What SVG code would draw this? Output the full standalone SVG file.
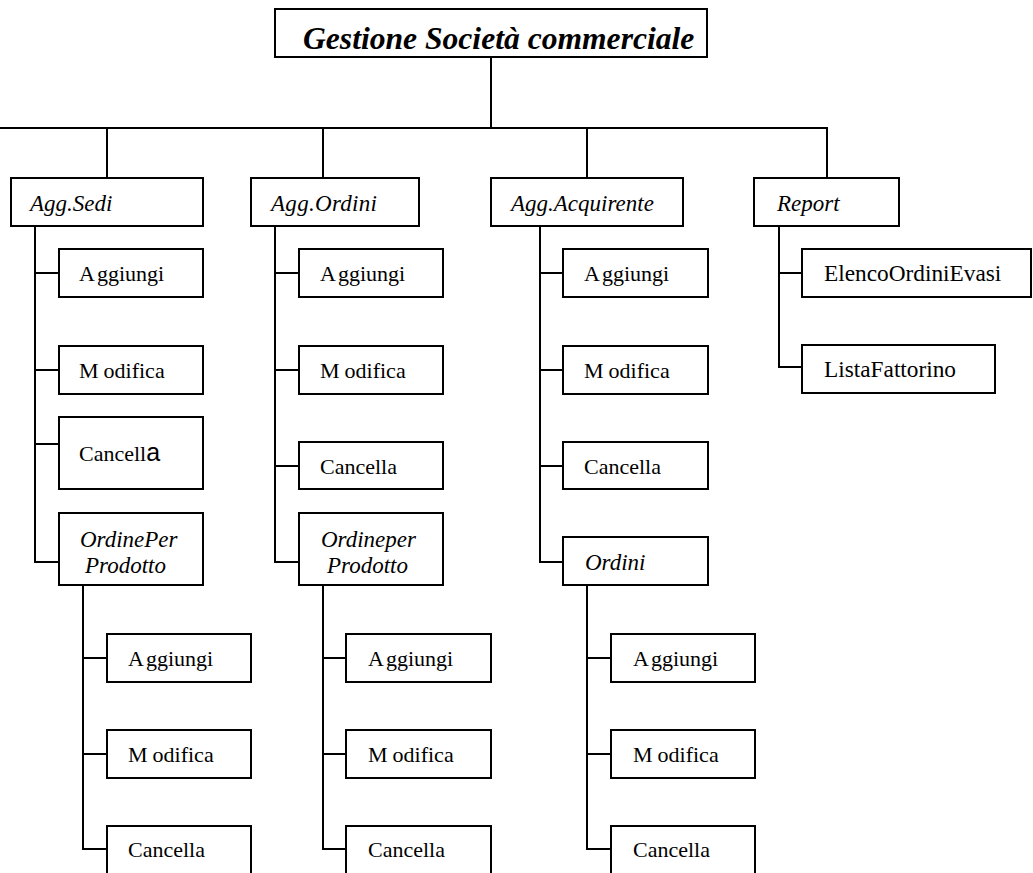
<svg xmlns="http://www.w3.org/2000/svg" width="1033" height="873" viewBox="0 0 1033 873">
<style>
rect{fill:#fff;stroke:#000;stroke-width:2}
#connectors line{stroke:#000;stroke-width:2}
text{font-family:'Liberation Serif','DejaVu Serif',serif;font-size:22px;fill:#000}
.it{font-style:italic;font-size:23px}
.big{font-size:23.3px}
.title{font-style:italic;font-weight:bold;font-size:31.6px}
</style>
<rect x="0" y="0" width="1033" height="873" style="fill:#fff;stroke:none"/>
<g id="connectors">
<line x1="491" y1="57" x2="491" y2="128"/>
<line x1="0" y1="128" x2="828" y2="128"/>
<line x1="107" y1="128" x2="107" y2="178"/>
<line x1="323" y1="128" x2="323" y2="178"/>
<line x1="587" y1="128" x2="587" y2="178"/>
<line x1="827" y1="128" x2="827" y2="178"/>
<line x1="35" y1="226" x2="35" y2="563"/>
<line x1="35" y1="273" x2="59" y2="273"/>
<line x1="35" y1="370" x2="59" y2="370"/>
<line x1="35" y1="444" x2="59" y2="444"/>
<line x1="35" y1="562" x2="59" y2="562"/>
<line x1="275" y1="226" x2="275" y2="563"/>
<line x1="275" y1="273" x2="299" y2="273"/>
<line x1="275" y1="370" x2="299" y2="370"/>
<line x1="275" y1="466" x2="299" y2="466"/>
<line x1="275" y1="562" x2="299" y2="562"/>
<line x1="540" y1="226" x2="540" y2="563"/>
<line x1="540" y1="273" x2="563" y2="273"/>
<line x1="540" y1="370" x2="563" y2="370"/>
<line x1="540" y1="466" x2="563" y2="466"/>
<line x1="540" y1="562" x2="563" y2="562"/>
<line x1="779" y1="226" x2="779" y2="368"/>
<line x1="779" y1="273" x2="802" y2="273"/>
<line x1="779" y1="367" x2="802" y2="367"/>
<line x1="83" y1="585" x2="83" y2="850"/>
<line x1="83" y1="658" x2="107" y2="658"/>
<line x1="83" y1="754" x2="107" y2="754"/>
<line x1="83" y1="849" x2="107" y2="849"/>
<line x1="323" y1="585" x2="323" y2="850"/>
<line x1="323" y1="658" x2="346" y2="658"/>
<line x1="323" y1="754" x2="346" y2="754"/>
<line x1="323" y1="849" x2="346" y2="849"/>
<line x1="587" y1="585" x2="587" y2="850"/>
<line x1="587" y1="658" x2="611" y2="658"/>
<line x1="587" y1="754" x2="611" y2="754"/>
<line x1="587" y1="849" x2="611" y2="849"/>
</g>
<g font-family="Liberation Serif">
<g id="root"><rect x="275" y="9" width="432" height="48"/><text class="title" x="303" y="49">Gestione Società commerciale</text></g>

<g id="agg-sedi"><rect x="11" y="178" width="192" height="48"/><text class="it" x="30" y="211">Agg.Sedi</text></g>
<g id="agg-ordini"><rect x="251" y="178" width="168" height="48"/><text class="it" x="271" y="211" letter-spacing="0.3">Agg.Ordini</text></g>
<g id="agg-acquirente"><rect x="491" y="178" width="192" height="48"/><text class="it" x="511" y="211">Agg.Acquirente</text></g>
<g id="report"><rect x="754" y="178" width="145" height="48"/><text class="it" x="777" y="211">Report</text></g>

<g id="sedi-aggiungi"><rect x="59" y="249" width="144" height="48"/><text x="79" y="281">A<tspan dx="2">ggiungi</tspan></text></g>
<g id="sedi-modifica"><rect x="59" y="346" width="144" height="48"/><text x="79" y="378">M<tspan dx="5">odifica</tspan></text></g>
<g id="sedi-cancella"><rect x="59" y="417" width="144" height="72"/><text x="79" y="461">Cancell<tspan style="font-family:'Liberation Sans',Arial,sans-serif;font-size:25px">a</tspan></text></g>
<g id="sedi-ordineperprodotto"><rect x="59" y="513" width="144" height="72"/><text class="it" x="80" y="547">OrdinePer</text><text class="it" x="85" y="573">Prodotto</text></g>

<g id="ordini-aggiungi"><rect x="299" y="249" width="144" height="48"/><text x="320" y="281">A<tspan dx="2">ggiungi</tspan></text></g>
<g id="ordini-modifica"><rect x="299" y="346" width="144" height="48"/><text x="320" y="378">M<tspan dx="5">odifica</tspan></text></g>
<g id="ordini-cancella"><rect x="299" y="442" width="144" height="47"/><text x="320" y="474">Cancella</text></g>
<g id="ordini-ordineperprodotto"><rect x="299" y="513" width="144" height="72"/><text class="it" x="321" y="547">Ordineper</text><text class="it" x="327" y="573">Prodotto</text></g>

<g id="acq-aggiungi"><rect x="563" y="249" width="145" height="48"/><text x="584" y="281">A<tspan dx="2">ggiungi</tspan></text></g>
<g id="acq-modifica"><rect x="563" y="346" width="145" height="48"/><text x="584" y="378">M<tspan dx="5">odifica</tspan></text></g>
<g id="acq-cancella"><rect x="563" y="442" width="145" height="47"/><text x="584" y="474">Cancella</text></g>
<g id="acq-ordini"><rect x="563" y="537" width="145" height="48"/><text class="it" x="585" y="570">Ordini</text></g>

<g id="report-elenco"><rect x="802" y="249" width="229" height="48"/><text class="big" x="824" y="281">ElencoOrdiniEvasi</text></g>
<g id="report-lista"><rect x="802" y="345" width="193" height="48"/><text class="big" x="824" y="377">ListaFattorino</text></g>

<g id="sedi-opp-aggiungi"><rect x="107" y="634" width="144" height="48"/><text x="128" y="666">A<tspan dx="2">ggiungi</tspan></text></g>
<g id="sedi-opp-modifica"><rect x="107" y="730" width="144" height="48"/><text x="128" y="762">M<tspan dx="5">odifica</tspan></text></g>
<g id="sedi-opp-cancella"><rect x="107" y="826" width="144" height="50"/><text x="128" y="857">Cancella</text></g>

<g id="ordini-opp-aggiungi"><rect x="346" y="634" width="145" height="48"/><text x="368" y="666">A<tspan dx="2">ggiungi</tspan></text></g>
<g id="ordini-opp-modifica"><rect x="346" y="730" width="145" height="48"/><text x="368" y="762">M<tspan dx="5">odifica</tspan></text></g>
<g id="ordini-opp-cancella"><rect x="346" y="826" width="145" height="50"/><text x="368" y="857">Cancella</text></g>

<g id="acq-ordini-aggiungi"><rect x="611" y="634" width="144" height="48"/><text x="633" y="666">A<tspan dx="2">ggiungi</tspan></text></g>
<g id="acq-ordini-modifica"><rect x="611" y="730" width="144" height="48"/><text x="633" y="762">M<tspan dx="5">odifica</tspan></text></g>
<g id="acq-ordini-cancella"><rect x="611" y="826" width="144" height="50"/><text x="633" y="857">Cancella</text></g>
</g>
</svg>
